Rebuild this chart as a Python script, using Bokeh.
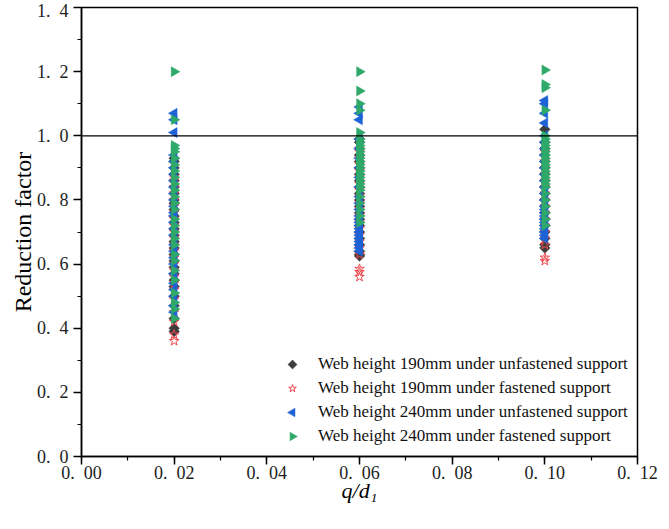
import math
from bokeh.plotting import figure
from bokeh.models import (ColumnDataSource, Span, Legend, LegendItem,
                          FixedTicker, CustomJSTickFormatter, Range1d)
from bokeh.embed import file_html
from bokeh.resources import INLINE

# q/d1 groups
q_ratio = [0.02, 0.06, 0.10]

# Reduction factors, web height 190 mm, unfastened support
h190_unfastened = [
    [0.39, 0.40, 0.43, 0.47, 0.50, 0.53, 0.55, 0.57, 0.59, 0.61, 0.63, 0.65, 0.67, 0.69,
     0.71, 0.73, 0.75, 0.77, 0.79, 0.80, 0.82, 0.84, 0.86, 0.88, 0.90, 0.92, 0.93],
    [0.625, 0.63, 0.64, 0.66, 0.68, 0.70, 0.72, 0.74, 0.76, 0.78, 0.80, 0.82, 0.84, 0.86,
     0.88, 0.90, 0.92, 0.94, 0.96, 0.98, 0.99],
    [0.65, 0.66, 0.68, 0.70, 0.72, 0.74, 0.76, 0.78, 0.80, 0.82, 0.84, 0.86, 0.88, 0.90,
     0.92, 0.94, 0.96, 0.98, 1.02],
]
# Reduction factors, web height 190 mm, fastened support
h190_fastened = [
    [0.36, 0.38, 0.42, 0.45, 0.49, 0.52, 0.54, 0.56, 0.58, 0.60, 0.62, 0.64, 0.66, 0.68,
     0.70, 0.72, 0.74, 0.76, 0.78, 0.80, 0.82, 0.84, 0.86, 0.87],
    [0.56, 0.575, 0.585, 0.63, 0.65, 0.67, 0.69, 0.71, 0.73, 0.75, 0.77, 0.79, 0.81, 0.83,
     0.85, 0.87, 0.89, 0.91, 0.93, 0.95, 0.96],
    [0.61, 0.62, 0.66, 0.68, 0.70, 0.72, 0.74, 0.76, 0.78, 0.80, 0.82, 0.84, 0.86, 0.88,
     0.90, 0.92, 0.95],
]
# Reduction factors, web height 240 mm, unfastened support
h240_unfastened = [
    [0.45, 0.47, 0.50, 0.52, 0.54, 0.57, 0.60, 0.62, 0.64, 0.66, 0.69, 0.71, 0.73, 0.75,
     0.76, 0.78, 0.80, 0.82, 0.84, 0.86, 0.88, 0.90, 0.92, 0.94, 1.01, 1.05, 1.07],
    [0.64, 0.65, 0.66, 0.67, 0.68, 0.69, 0.70, 0.71, 0.72, 0.73, 0.74, 0.75, 0.77, 0.79,
     0.81, 0.84, 0.87, 0.90, 0.93, 0.96, 0.99, 1.05, 1.07, 1.09],
    [0.68, 0.69, 0.70, 0.71, 0.72, 0.73, 0.74, 0.75, 0.76, 0.77, 0.78, 0.80, 0.82, 0.84,
     0.86, 0.88, 0.90, 0.92, 0.94, 0.96, 0.98, 1.00, 1.04, 1.07, 1.10, 1.11],
]
# Reduction factors, web height 240 mm, fastened support
h240_fastened = [
    [0.43, 0.46, 0.48, 0.51, 0.55, 0.58, 0.61, 0.63, 0.66, 0.68, 0.70, 0.72, 0.74, 0.77,
     0.79, 0.81, 0.83, 0.85, 0.87, 0.89, 0.91, 0.93, 0.95, 0.96, 0.97, 1.05, 1.20],
    [0.73, 0.75, 0.77, 0.79, 0.81, 0.83, 0.84, 0.85, 0.86, 0.87, 0.88, 0.89, 0.90, 0.91,
     0.92, 0.93, 0.94, 0.95, 0.96, 0.97, 0.98, 0.99, 1.01, 1.08, 1.10, 1.14, 1.20],
    [0.72, 0.74, 0.76, 0.78, 0.80, 0.82, 0.84, 0.85, 0.86, 0.87, 0.88, 0.89, 0.90, 0.91,
     0.92, 0.93, 0.94, 0.95, 0.96, 0.97, 0.98, 0.99, 1.00, 1.08, 1.15, 1.16, 1.205],
]

labels = [
    "Web height 190mm under unfastened support",
    "Web height 190mm under fastened support",
    "Web height 240mm under unfastened support",
    "Web height 240mm under fastened support",
]

x_ticks = [0.00, 0.02, 0.04, 0.06, 0.08, 0.10, 0.12]
y_ticks = [0.0, 0.2, 0.4, 0.6, 0.8, 1.0, 1.2, 1.4]

SERIF = "Liberation Serif"
X_MAX, Y_MAX = 0.12, 1.4

# frame geometry (px)
W, H = 669, 529
B_LEFT, B_RIGHT, B_TOP, B_BOTTOM = 81, 32, 7, 73
FRAME_W = W - B_LEFT - B_RIGHT
FRAME_H = H - B_TOP - B_BOTTOM

# legend geometry (px, relative to frame bottom-left)
LEG_X, LEG_Y, LEG_PAD, GLYPH, ROW_GAP = 197, 6, 4, 20, 4

# marker styles: (marker, angle, size, fill, line, line_width)
STYLES = [
    ("square", math.pi / 4, 7.5, "#3d3d3d", "#3d3d3d", 0.5),
    ("star", 0.0, 10, None, "#f0484e", 1.0),
    ("triangle", math.pi / 2, 10, "#1e63d6", "#1e63d6", 0.5),
    ("triangle", -math.pi / 2, 10, "#2ea96a", "#2ea96a", 0.5),
]


def flatten(groups, angle):
    xs, ys = [], []
    for q, vals in zip(q_ratio, groups):
        xs.extend([q] * len(vals))
        ys.extend(vals)
    return ColumnDataSource(dict(x=xs, y=ys, ang=[angle] * len(xs)))


p = figure(width=W, height=H, output_backend="svg", toolbar_location=None,
           x_range=Range1d(0, X_MAX), y_range=Range1d(0, Y_MAX),
           min_border_left=B_LEFT, min_border_right=B_RIGHT, min_border_top=B_TOP,
           min_border_bottom=B_BOTTOM)
p.background_fill_color = "white"
p.border_fill_color = "white"
p.grid.visible = False
p.outline_line_color = "black"
p.outline_line_width = 1.5

series = [h190_unfastened, h190_fastened, h240_unfastened, h240_fastened]
renderers = []
for groups, (mk, ang, sz, fc, lc, lw) in zip(series, STYLES):
    renderers.append(p.scatter("x", "y", source=flatten(groups, ang), marker=mk, angle="ang",
                               size=sz, fill_color=fc, line_color=lc, line_width=lw))

p.add_layout(Span(location=1.0, dimension="width", line_color="black", line_width=1.3))

# axes
for ax in (p.xaxis[0], p.yaxis[0]):
    ax.axis_line_width = 1.5
    ax.axis_line_color = "black"
    ax.major_tick_line_color = "black"
    ax.minor_tick_line_color = "black"
    ax.major_tick_line_width = 1.5
    ax.minor_tick_line_width = 1.2
    ax.major_tick_in = 0
    ax.major_tick_out = 8
    ax.minor_tick_in = 0
    ax.minor_tick_out = 4
    ax.major_label_text_font = SERIF
    ax.major_label_text_font_size = "18px"
    ax.major_label_text_color = "#222222"

p.xaxis.ticker = FixedTicker(ticks=x_ticks, minor_ticks=[i * 0.01 for i in range(13)])
p.yaxis.ticker = FixedTicker(ticks=y_ticks, minor_ticks=[i * 0.1 for i in range(15)])
p.xaxis.formatter = CustomJSTickFormatter(
    code="return tick.toFixed(2).replace('.', '.\\u2002');")
p.yaxis.formatter = CustomJSTickFormatter(
    code="return tick.toFixed(1).replace('.', '.\\u2002');")
p.xaxis.major_label_standoff = -2
p.yaxis.major_label_standoff = 5

p.yaxis.axis_label = "Reduction factor"
p.yaxis.axis_label_text_font = SERIF
p.yaxis.axis_label_text_font_style = "normal"
p.yaxis.axis_label_text_font_size = "24px"
p.yaxis.axis_label_text_color = "black"
p.yaxis.axis_label_standoff = -2

p.xaxis.axis_label = "q/d\u2081"
p.xaxis.axis_label_text_font = SERIF
p.xaxis.axis_label_text_font_style = "italic"
p.xaxis.axis_label_text_font_size = "22px"
p.xaxis.axis_label_text_color = "black"
p.xaxis.axis_label_standoff = -8

# legend: star key drawn by the legend itself; the rotated keys are drawn
# as glyphs at the legend row positions (legend keys ignore marker angles)
blank = ColumnDataSource(dict(x=[], y=[]))
items = []
key_x, key_y, key_idx = [], [], []
for i, (label, r, st) in enumerate(zip(labels, renderers, STYLES)):
    row_center = LEG_Y + LEG_PAD + (len(labels) - 1 - i) * (GLYPH + ROW_GAP) + GLYPH / 2
    if st[1] == 0.0:
        items.append(LegendItem(label=label, renderers=[r], index=0))
    else:
        dummy = p.scatter("x", "y", source=blank, marker="circle", size=1,
                          fill_alpha=0, line_alpha=0)
        items.append(LegendItem(label=label, renderers=[dummy]))
        key_x.append((LEG_X + LEG_PAD + GLYPH / 2) / FRAME_W * X_MAX)
        key_y.append(row_center / FRAME_H * Y_MAX)
        key_idx.append(i)

for kx, ky, i in zip(key_x, key_y, key_idx):
    mk, ang, sz, fc, lc, lw = STYLES[i]
    p.scatter([kx], [ky], marker=mk, angle=ang, size=sz * 0.85, fill_color=fc,
              line_color=lc, line_width=lw)

legend = Legend(items=items, location=(LEG_X, LEG_Y))
legend.background_fill_alpha = 0
legend.border_line_alpha = 0
legend.label_text_font = SERIF
legend.label_text_font_size = "17px"
legend.label_text_color = "#111111"
legend.glyph_width = GLYPH
legend.glyph_height = GLYPH
legend.label_height = GLYPH
legend.spacing = ROW_GAP
legend.padding = LEG_PAD
legend.label_standoff = 16
p.add_layout(legend, "center")

open("out.html", "w").write(file_html(p, INLINE))
